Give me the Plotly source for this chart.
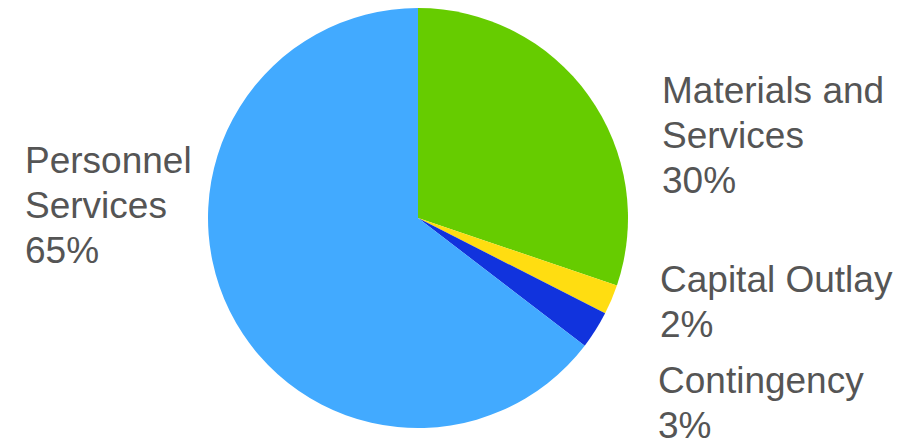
import plotly.graph_objects as go

categories = ["Materials and Services", "Capital Outlay", "Contingency", "Personnel Services"]
label_lines = [["Materials and", "Services"], ["Capital Outlay"], ["Contingency"], ["Personnel", "Services"]]
values = [30.2, 2.3, 2.9, 64.6]
colors = ["#66CC00", "#FFDD11", "#1133DD", "#42AAFF"]

W, H = 910, 440
OFF = 8          # page body offset
FS = 37          # font size
LINE = 45        # line spacing in px
# (left x, first baseline y) of each label block, in page pixels
label_pos = [(662, 106), (660, 295), (658, 396), (25, 176)]

fig = go.Figure(go.Pie(
    labels=categories,
    values=values,
    marker=dict(colors=colors, line=dict(width=0)),
    sort=False,
    direction="clockwise",
    rotation=0,
    textinfo="none",
    hoverinfo="label+percent",
    showlegend=False,
    domain=dict(x=[200 / W, 620 / W], y=[1 - 420 / H, 1]),
))

total = sum(values)
for lines, v, (px, py) in zip(label_lines, values, label_pos):
    pct = round(100 * v / total)
    all_lines = lines + [f"{pct}%"]
    for i, t in enumerate(all_lines):
        base = py + i * LINE
        top = base - OFF - 38
        fig.add_annotation(
            text=t,
            x=(px - 10) / W, y=1 - top / H,
            xref="paper", yref="paper",
            xanchor="left", yanchor="top",
            align="left", showarrow=False,
            font=dict(family="Liberation Sans, Arial, sans-serif", size=FS, color="#555555"),
        )

fig.update_layout(
    width=W, height=H,
    margin=dict(l=0, r=0, t=0, b=0),
    paper_bgcolor="white",
    plot_bgcolor="white",
)

fig.write_html("out.html")
